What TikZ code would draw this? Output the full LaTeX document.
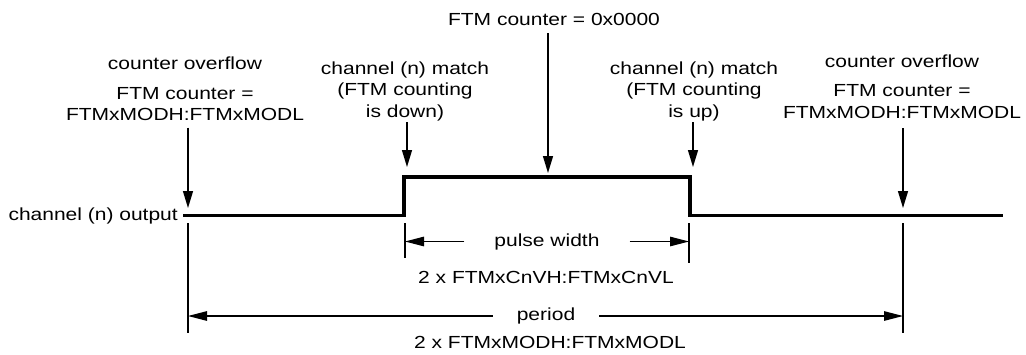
\documentclass[tikz,border=0pt]{standalone}
\usepackage{fontspec}
\setmainfont{Liberation Sans}[FakeStretch=1.2]
\usepackage{tikz}
\usetikzlibrary{arrows.meta, positioning, calc}

\tikzset{
  lbl/.style={inner sep=0pt, align=center, font=\fontsize{17.5}{21.5}\selectfont},
  signal/.style={line width=3.2pt},
  pointer/.style={-{Triangle[length=17pt,width=10pt]}, line width=1.3pt},
  dimline/.style={-{Triangle[length=19pt,width=9.5pt]}, line width=1.2pt},
  tickline/.style={line width=1.2pt}
}

\begin{document}
\begin{tikzpicture}[x=1pt, y=-1pt]
  \useasboundingbox (0,0) rectangle (1026,354);

  % Output waveform
  \coordinate (s0) at (183,215.5);
  \coordinate (rise) at (404,215.5);
  \coordinate (high) at (690,177);
  \coordinate (fall) at (690,215.5);
  \coordinate (s1) at (1003,215.5);
  \draw[signal] (s0) -- (rise) |- (high) -- (fall) -- (s1);
  \node[lbl, anchor=east] (out) at (178,215.5) {channel (n) output};

  % Event labels
  \node[lbl, anchor=base] (ovfA) at (185,120.5) {counter overflow\\[8pt]FTM counter =\\FTMxMODH:FTMxMODL};
  \node[lbl, anchor=base] (matchDn) at (405,117) {channel (n) match\\(FTM counting\\is down)};
  \node[lbl, anchor=base] (zero) at (554,25) {FTM counter = 0x0000};
  \node[lbl, anchor=base] (matchUp) at (694,117) {channel (n) match\\(FTM counting\\is up)};
  \node[lbl, anchor=base] (ovfB) at (902,118) {counter overflow\\[8pt]FTM counter =\\FTMxMODH:FTMxMODL};

  % Event pointers
  \coordinate (tipA) at (188,208);
  \coordinate (tipB) at (407,167);
  \coordinate (tipC) at (548,173);
  \coordinate (tipD) at (693,167);
  \coordinate (tipE) at (903,208);
  \draw[pointer] ($(ovfA.base -| tipA)+(0,7)$) -- (tipA);
  \draw[pointer] ($(matchDn.base -| tipB)+(0,5)$) -- (tipB);
  \draw[pointer] ($(zero.base -| tipC)+(0,8)$) -- (tipC);
  \draw[pointer] ($(matchUp.base -| tipD)+(0,5)$) -- (tipD);
  \draw[pointer] ($(ovfB.base -| tipE)+(0,10)$) -- (tipE);

  % Pulse width
  \coordinate (pwL) at (405,223);
  \coordinate (pwR) at (689,223);
  \draw[tickline] (pwL) -- ++(0,35);
  \draw[tickline] (pwR) -- ++(0,40);
  \node[lbl, inner xsep=30pt] (pw) at (547,241.5) {pulse width};
  \draw[dimline] (pw.west) -- (pw.west -| pwL);
  \draw[dimline] (pw.east) -- (pw.east -| pwR);
  \node[lbl, anchor=base] (pwval) at (546,283) {2 x FTMxCnVH:FTMxCnVL};

  % Period
  \coordinate (perL) at (188,223);
  \coordinate (perR) at (903,223);
  \draw[tickline] (perL) -- ++(0,110);
  \draw[tickline] (perR) -- ++(0,110);
  \node[lbl, inner xsep=24pt] (per) at (546,316) {period};
  \draw[dimline] (per.west) -- (per.west -| perL);
  \draw[dimline] (per.east) -- (per.east -| perR);
  \node[lbl, anchor=base] (perval) at (550,348) {2 x FTMxMODH:FTMxMODL};
\end{tikzpicture}
\end{document}
